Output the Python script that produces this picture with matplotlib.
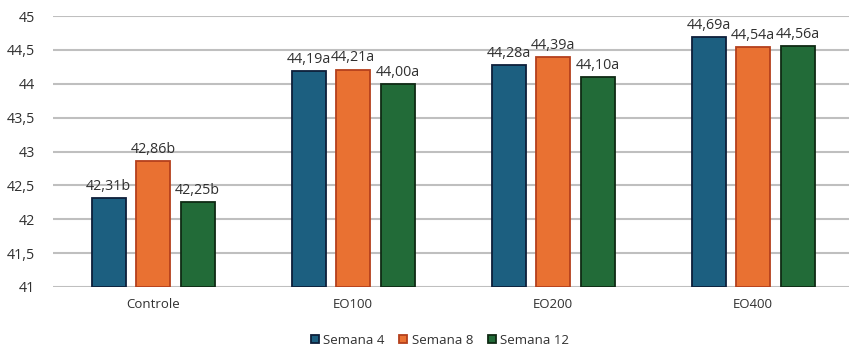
import matplotlib
matplotlib.use("Agg")
import matplotlib.pyplot as plt
import numpy as np

categories = ["Controle", "EO100", "EO200", "EO400"]
series_names = ["Semana 4", "Semana 8", "Semana 12"]
semana4 = [42.31, 44.19, 44.28, 44.69]
semana8 = [42.86, 44.21, 44.39, 44.54]
semana12 = [42.25, 44.00, 44.10, 44.56]
letters4 = ["b", "a", "a", "a"]
letters8 = ["b", "a", "a", "a"]
letters12 = ["b", "a", "a", "a"]
yticks = [41, 41.5, 42, 42.5, 43, 43.5, 44, 44.5, 45]

plt.rcParams['font.family'] = ['Open Sans', 'DejaVu Sans']

fills = ["#1c5f80", "#e97132", "#226b38"]
edges = ["#0d1f3a", "#b4401c", "#0f2a14"]

fig = plt.figure(figsize=(8.49, 3.47), dpi=100)
ax = fig.add_axes([53 / 849, 1 - 287 / 347, 800 / 849, 271 / 347])

x = np.arange(len(categories))
width = 0.17
step = 0.2225
data = [semana4, semana8, semana12]
letters = [letters4, letters8, letters12]
for i, (vals, lets) in enumerate(zip(data, letters)):
    pos = x + (i - 1) * step
    ax.bar(pos, np.array(vals) - 41, bottom=41, width=width, color=fills[i],
           edgecolor=edges[i], linewidth=1.3, label=series_names[i], zorder=3)
    for p, v, l in zip(pos, vals, lets):
        txt = f"{v:.2f}".replace(".", ",") + l
        ax.text(p, v + 0.06, txt, ha="center", va="bottom", fontsize=10.3,
                color="#303030", zorder=4)

ax.set_xlim(-0.5, 3.5)
ax.set_ylim(41, 45)
ax.set_yticks(yticks)
ax.set_yticklabels([f"{t:g}".replace(".", ",") for t in yticks])
ax.set_xticks(x)
ax.set_xticklabels(categories)
ax.tick_params(axis="both", length=0, colors="#303030")
ax.tick_params(axis="y", pad=13, labelsize=10.3)
ax.tick_params(axis="x", pad=8, labelsize=9.5)
ax.yaxis.grid(True, color="#bfbfbf", linewidth=1.5, zorder=0)
for s in ax.spines.values():
    s.set_visible(False)

fig.legend(loc="center", bbox_to_anchor=(440 / 849, 1 - 340 / 347), ncol=3,
           frameon=False, fontsize=9.5, handlelength=0.6, handleheight=0.6,
           handletextpad=0.35, columnspacing=1.1, labelcolor="#303030")

fig.savefig("out.png", dpi=100)
